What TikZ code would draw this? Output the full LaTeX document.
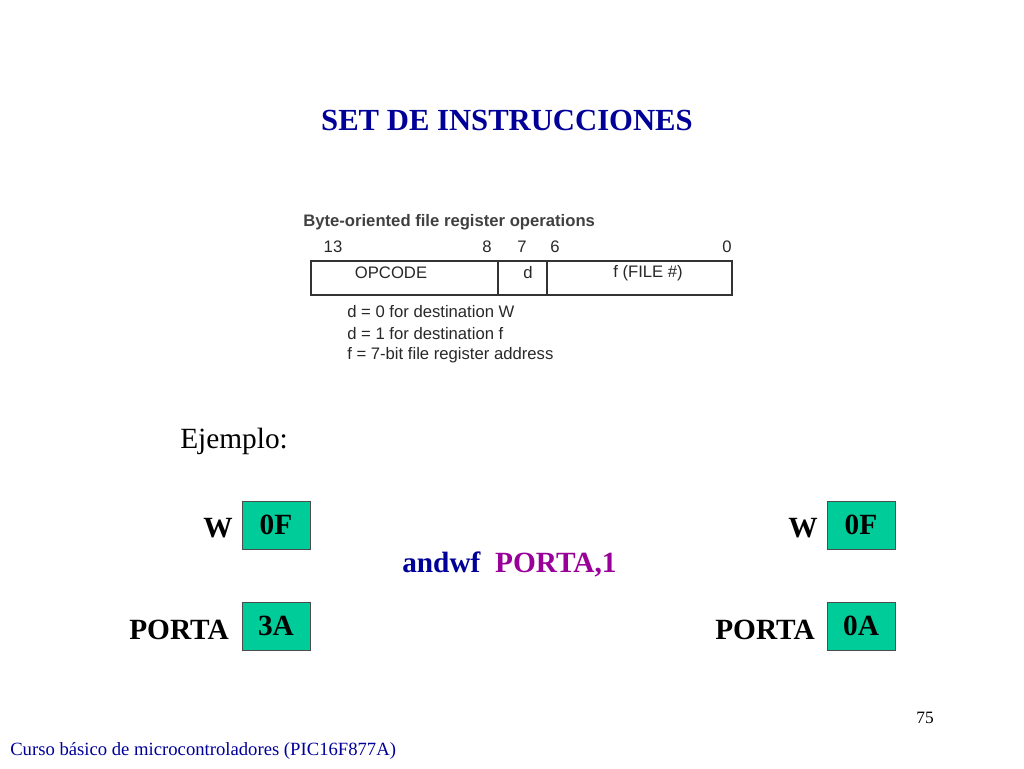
\documentclass[tikz,border=0pt]{standalone}
\usepackage{fontspec}
\setmainfont{Liberation Serif}
\newfontfamily\arial{Liberation Sans}
\definecolor{tblue}{RGB}{0,0,153}
\definecolor{tpurp}{RGB}{153,0,153}
\definecolor{tgreen}{RGB}{0,204,153}
\definecolor{tgrey}{RGB}{40,40,40}
\begin{document}
\begin{tikzpicture}[x=0.75pt,y=-0.75pt,
  sans/.style={font=\arial\fontsize{12.5}{14}\selectfont,text=tgrey,inner sep=0pt},
  reg/.style={draw=black!70,fill=tgreen,minimum width=51pt,minimum height=36pt,inner sep=0pt,font=\bfseries\fontsize{22}{24}\selectfont},
  lbl/.style={font=\bfseries\fontsize{22}{24}\selectfont,inner sep=0pt,anchor=east}]
\useasboundingbox (0,0) rectangle (1024,768);
\node[font=\bfseries\fontsize{23}{26}\selectfont,text=tblue] (title) at (507,120) {SET DE INSTRUCCIONES};
\node[sans,anchor=west,font=\arial\bfseries\fontsize{12.5}{14}\selectfont,text=black!75] (hdr) at (303,222) {Byte-oriented file register operations};
\node[sans] (b13) at (333,247) {13};
\node[sans] (b8) at (487,247) {8};
\node[sans] (b7) at (522,247) {7};
\node[sans] (b6) at (555,247) {6};
\node[sans] (b0) at (727,247) {0};
\draw[black!80,line width=0.8pt] (311,261) rectangle (732,295);
\draw[black!80,line width=0.8pt] (498,261) -- (498,295) (547,261) -- (547,295);
\node[sans] (op) at (391,273) {OPCODE};
\node[sans] (d) at (528,273) {d};
\node[sans] (f) at (648,273) {f (FILE \#)};
\node[sans,anchor=west] (l1) at (347,312) {d = 0 for destination W};
\node[sans,anchor=west] (l2) at (347,334) {d = 1 for destination f};
\node[sans,anchor=west] (l3) at (347,355) {f = 7-bit file register address};
\node[font=\fontsize{22}{24}\selectfont,anchor=west,inner sep=0pt] (ej) at (180,441) {Ejemplo:};
\node[reg] (w1) at (276,525) {0F};
\node[reg] (p1) at (276,626) {3A};
\node[reg] (w2) at (861,525) {0F};
\node[reg] (p2) at (861,626) {0A};
\node[lbl] (lw1) at (233,528) {W};
\node[lbl] (lp1) at (229,630) {PORTA};
\node[lbl] (lw2) at (818,528) {W};
\node[lbl] (lp2) at (815,630) {PORTA};
\node[font=\bfseries\fontsize{22}{24}\selectfont,inner sep=0pt,anchor=west] (ins) at (402,564) {\textcolor{tblue}{andwf}\ \ \textcolor{tpurp}{PORTA,1}};
\node[font=\fontsize{13}{15}\selectfont,inner sep=0pt] (pg) at (925,718) {75};
\node[font=\fontsize{14}{16}\selectfont,text=tblue,inner sep=0pt,anchor=west] (ft) at (10,751) {Curso básico de microcontroladores (PIC16F877A)};
\end{tikzpicture}
\end{document}
